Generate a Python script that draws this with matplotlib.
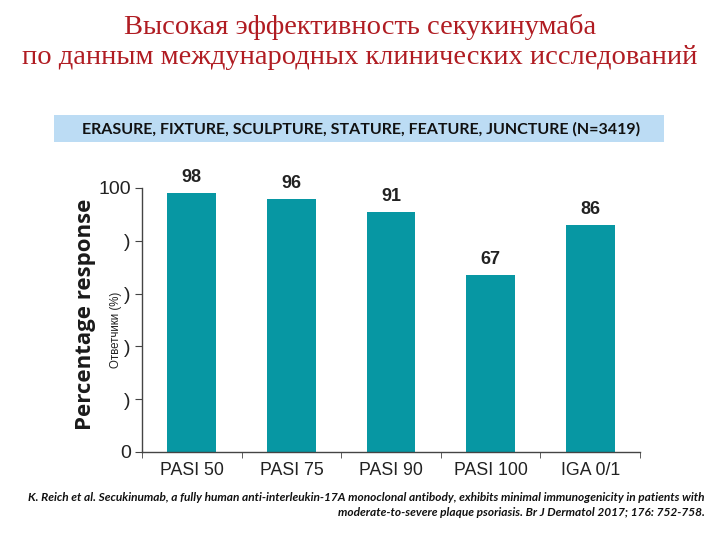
import matplotlib.pyplot as plt

categories = ["PASI 50", "PASI 75", "PASI 90", "PASI 100", "IGA 0/1"]
values = [98, 96, 91, 67, 86]
ytick_values = [0, 20, 40, 60, 80, 100]
ytick_labels = ["0", ")", ")", ")", ")", "100"]

title = "Высокая эффективность секукинумаба\nпо данным международных клинических исследований"
banner = "ERASURE, FIXTURE, SCULPTURE, STATURE, FEATURE, JUNCTURE (N=3419)"
citation = ("K. Reich et al. Secukinumab, a fully human anti-interleukin-17A monoclonal antibody, "
            "exhibits minimal immunogenicity in patients with\n"
            "moderate-to-severe plaque psoriasis. Br J Dermatol 2017; 176: 752-758.")

bar_color = "#0797a3"

fig = plt.figure(figsize=(7.2, 5.4), dpi=100)

fig.text(0.5, 1 - 42 / 540, title, ha="center", va="center", color="#b01c22",
         family="Liberation Serif", fontsize=20.5, linespacing=1.28)

# banner box
fig.patches.append(plt.Rectangle((54 / 720, 1 - 142 / 540), 610 / 720, 27 / 540,
                                 transform=fig.transFigure, facecolor="#bcdcf4",
                                 edgecolor="none"))
fig.text(361 / 720, 1 - 129 / 540, banner, ha="center", va="center",
         family="Lato", fontweight="bold", fontsize=11.5, color="#111111")

ax = fig.add_axes([142 / 720, 1 - 452 / 540, 498 / 720, 264 / 540])
x = list(range(len(categories)))
bars = ax.bar(x, values, width=0.49, color=bar_color)
for xi, v in zip(x, values):
    ax.annotate(str(v), (xi, v), xytext=(0, 5), textcoords="offset points",
                ha="center", va="bottom", fontsize=13, fontweight="bold",
                family="Liberation Sans", color="#222222", annotation_clip=False)

ax.set_xlim(-0.5, len(categories) - 0.5)
ax.set_ylim(0, 100)
ax.set_yticks(ytick_values)
ax.set_yticklabels(ytick_labels, family="Liberation Sans", fontsize=14, color="#222222")
ax.set_xticks(x)
ax.set_xticklabels(categories, family="Liberation Sans", fontsize=12.8, color="#222222")
ax.tick_params(axis="x", which="major", length=0, pad=7)
ax.set_xticks([i - 0.5 for i in range(len(categories) + 1)], minor=True)
ax.tick_params(axis="x", which="minor", length=4, direction="out", color="#444444")
ax.tick_params(axis="y", length=5, direction="out", color="#444444", pad=3)
for s in ["top", "right"]:
    ax.spines[s].set_visible(False)
for s in ["left", "bottom"]:
    ax.spines[s].set_color("#444444")
    ax.spines[s].set_linewidth(1.0)

fig.text(85 / 720, 1 - 314 / 540, "Percentage response", rotation=90, ha="center",
         va="center", family="Open Sans", fontweight="bold", fontsize=16, color="#1a1a1a")
fig.text(116 / 720, 1 - 330 / 540, "Ответчики (%)", rotation=90, ha="center",
         va="center", family="Liberation Sans", fontsize=8.3, color="#222222")

fig.text(705 / 720, 1 - 505 / 540, citation, ha="right", va="center",
         family="Lato", style="italic", fontweight="bold", fontsize=8.6,
         color="#111111", linespacing=1.4, multialignment="right")

fig.savefig("out.png", dpi=100)
